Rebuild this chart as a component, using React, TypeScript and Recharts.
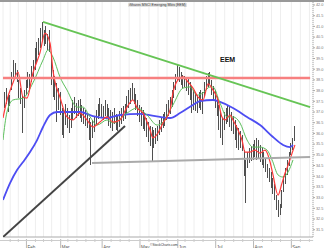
import { ComposedChart, Bar, Line, XAxis, YAxis, CartesianGrid } from "recharts";

// daily bars, day 1..162
const HIGH = [
  37.93, 38.12, 37.84, 37.79, 38.87, 39.43, 39.29, 38.96, 38.5, 38.12,
  37.75, 38.03, 38.5, 38.87, 38.78, 39.15, 39.43, 39.99, 40.27, 40.46,
  40.93, 41.21, 40.83, 41.02, 40.64, 40.83, 39.66, 38.96, 38.68, 38.36,
  38.12, 37.93, 37.19, 37.09, 37.37, 37.19, 36.86, 37.19, 37.56, 37.7,
  37.42, 37.56, 37.61, 37.33, 37.19, 37.09, 36.95, 36.72, 36.53, 36.63,
  36.81, 37.09, 37.37, 37.65, 37.37, 37.28, 37.56, 37.37, 37.19, 37.09,
  37.0, 37.19, 36.91, 36.81, 37.05, 37.19, 37.28, 37.37, 37.75, 38.03,
  38.12, 38.36, 38.12, 37.84, 37.56, 37.33, 37.23, 37.09, 36.95, 36.72,
  36.53, 36.35, 36.3, 36.16, 36.25, 36.35, 36.63, 36.77, 36.91, 37.0,
  37.37, 37.56, 37.7, 38.03, 38.4, 38.78, 39.2, 39.1, 38.87, 38.73,
  38.68, 38.59, 38.54, 38.4, 38.21, 38.03, 37.89, 37.79, 37.93, 38.03,
  37.93, 38.4, 38.68, 38.82, 38.87, 38.5, 38.21, 38.03, 37.75, 37.33,
  37.0, 36.72, 37.0, 37.19, 37.33, 37.23, 37.0, 36.81, 36.63, 36.39,
  36.25, 36.11, 35.93, 35.22, 34.76, 35.13, 35.32, 35.41, 35.5, 35.69,
  35.79, 35.69, 35.46, 35.32, 35.13, 34.85, 34.57, 34.38, 34.2, 33.92,
  33.64, 33.12, 32.89, 32.7, 33.36, 34.01, 34.38, 34.76, 35.13, 35.55,
  35.79, 36.35,
];
const LOW = [
  37.19, 37.37, 37.0, 37.28, 38.03, 38.59, 38.73, 38.4, 37.65, 37.37,
  36.02, 37.19, 37.79, 38.12, 38.03, 38.4, 38.59, 38.96, 39.34, 39.66,
  39.99, 40.36, 40.08, 40.18, 39.9, 39.8, 38.26, 37.7, 37.56, 36.53,
  37.09, 36.86, 35.93, 35.79, 36.39, 36.25, 36.02, 36.25, 36.63, 36.91,
  36.72, 36.81, 36.72, 36.53, 36.44, 36.35, 36.25, 35.69, 34.52, 35.79,
  36.07, 36.44, 36.67, 36.81, 36.72, 36.63, 36.81, 36.72, 36.35, 36.25,
  36.11, 36.44, 36.16, 36.11, 36.3, 36.44, 36.58, 36.67, 36.95, 37.19,
  37.37, 37.56, 37.37, 37.09, 36.81, 36.53, 36.35, 36.21, 36.11, 35.83,
  35.6, 35.41, 34.66, 35.32, 35.5, 35.64, 35.93, 36.07, 36.25, 36.35,
  36.63, 36.81, 36.91, 37.23, 37.65, 38.03, 38.5, 38.4, 38.26, 38.12,
  38.17, 37.98, 37.79, 37.56, 36.95, 37.09, 37.05, 36.95, 37.19, 37.09,
  36.91, 37.75, 38.03, 38.17, 38.31, 37.79, 37.51, 37.19, 36.81, 36.16,
  35.79, 35.46, 36.16, 36.44, 36.53, 36.3, 36.11, 35.97, 35.69, 35.32,
  35.22, 35.32, 35.18, 34.01, 32.75, 34.38, 34.62, 34.71, 34.76, 34.9,
  34.76, 34.85, 34.66, 34.52, 34.38, 34.2, 33.92, 33.73, 33.45, 33.17,
  32.89, 32.42, 32.09, 32.19, 32.51, 33.26, 33.64, 34.06, 34.48, 34.99,
  35.22, 35.64,
];

// moving averages (day, price)
const RED_DAYS = [0, 2.2, 5.5, 8.3, 11.1, 13.3, 16.6, 20.5, 23.3, 26.1, 27.7, 31.6, 35.5, 38.8, 42.7, 46.6, 49.9, 53.8, 57.7, 61, 64.9, 68.8, 72.1, 74.4, 77.7, 81.6, 83.2, 86, 88.8, 92.7, 94.3, 97.1, 99.9, 102.7, 105.4, 108.2, 111, 113.8, 116.5, 119.3, 121.5, 123.2, 126, 127.6, 129.9, 132.6, 134.3, 137.1, 139.8, 142.6, 145.4, 148.2, 149.8, 152.6, 154.8, 156.5, 158.2, 160.4, 162];
const RED_VALS = [36.72, 37.56, 38.36, 38.87, 37.7, 37.65, 38.82, 39.76, 40.69, 40.22, 38.96, 37.7, 36.77, 36.63, 36.95, 36.63, 36.3, 36.53, 36.77, 36.53, 36.63, 37.23, 37.56, 37.19, 36.95, 36.16, 35.79, 36.02, 36.49, 37.09, 37.89, 38.5, 38.64, 38.4, 38.12, 37.7, 37.56, 38.31, 38.03, 37.56, 36.77, 36.63, 36.86, 36.63, 36.25, 35.69, 35.13, 35.13, 35.22, 35.08, 35.22, 34.66, 34.06, 33.12, 33.68, 34.15, 34.52, 35.08, 35.46];

const GREEN_DAYS = [0, 2.2, 5.5, 11.1, 16.6, 22.2, 25, 27.7, 31.6, 35.5, 41.1, 44.4, 48.3, 52.2, 57.7, 61, 68.8, 74.4, 79.9, 85.5, 88.8, 94.3, 99.9, 103.8, 107.7, 111, 114.8, 116.5, 120.4, 124.3, 127.6, 131.5, 135.4, 138.7, 142.6, 146.5, 149.3, 152.6, 155.4, 158.2, 160.9];
const GREEN_VALS = [35.69, 37.0, 37.56, 37.65, 38.36, 39.43, 39.9, 39.57, 38.64, 38.03, 37.23, 37.23, 36.77, 36.39, 36.63, 36.49, 36.95, 37.19, 36.86, 36.39, 36.53, 37.33, 38.12, 38.17, 37.79, 37.89, 38.17, 38.17, 37.42, 36.77, 36.77, 36.49, 35.69, 35.36, 35.36, 35.22, 34.76, 34.06, 33.96, 34.2, 34.76];

const BLUE_DAYS = [0, 3.9, 7.8, 11.1, 15, 18.9, 22.2, 26.1, 30, 35.5, 42.7, 49.9, 57.7, 64.9, 76, 87.1, 92.7, 98.2, 105.4, 109.3, 116.5, 120.4, 127.6, 135.4, 142.6, 149.8, 155.4, 159.3, 160.9];
const BLUE_VALS = [32.89, 33.68, 34.29, 34.66, 35.13, 35.69, 36.3, 36.86, 37.0, 37.0, 37.0, 36.81, 36.72, 36.86, 36.91, 36.77, 36.72, 36.95, 37.33, 37.51, 37.56, 37.47, 37.19, 36.77, 36.39, 35.83, 35.46, 35.36, 35.46];

// trend lines (start/end)
const DOWN_TREND_DAYS = [22.2, 170.4];
const DOWN_TREND_VALS = [41.21, 37.23];
const RESIST_DAYS = [0, 170.4];
const RESIST_VALS = [38.59, 38.59];
const SUPPORT_DAYS = [49.4, 170.4];
const SUPPORT_VALS = [34.62, 34.9];
const UP_TREND_DAYS = [0, 67.7];
const UP_TREND_VALS = [31.16, 36.35];

const Y_TICKS = [31.5, 32, 32.5, 33, 33.5, 34, 34.5, 35, 35.5, 36, 36.5, 37, 37.5, 38, 38.5, 39, 39.5, 40, 40.5, 41, 41.5, 42];
const MONTH_TICKS = [13, 32, 55, 76, 97, 118, 139, 160];
const MONTH_LABELS = ["Feb", "Mar", "Apr", "May", "Jun", "Jul", "Aug", "Sep"];
const WEEK_TICKS = [4, 8.5, 18, 22.5, 27, 36, 41, 46, 51, 60, 65, 70, 81, 86, 91, 101, 106, 111, 123, 128, 133, 144, 149, 154, 165, 170];
const WEEK_LABELS = ["21", "28", "11", "18", "25", "10", "17", "24", "31", "14", "21", "28", "12", "19", "26", "9", "16", "23", "8", "15", "22", "13", "20", "27", "10", "17"];

const X_DOMAIN: [number, number] = [0, 172];
const Y_DOMAIN: [number, number] = [31.16, 42.14];

const bars = HIGH.map((h, i) => ({ d: i + 1, hi: h, lo: LOW[i] }));
const pts = (days: number[], vals: number[]) => days.map((d, i) => ({ d, p: vals[i] }));
const allTicks = [...WEEK_TICKS, ...MONTH_TICKS].sort((a, b) => a - b);

// 1px high-low stick snapped to the pixel grid
function Stick({ x, y, width, height }: any) {
  const cx = Math.floor(x + width / 2);
  return <rect x={cx} y={y} width={1} height={height} fill="#505050" shapeRendering="crispEdges" />;
}

function XTick({ x, y, payload }: any) {
  const m = MONTH_TICKS.indexOf(payload.value);
  if (m >= 0) {
    return (
      <g>
        <line x1={x} x2={x} y1={y} y2={y + 9} stroke="#999" strokeWidth={0.7} />
        <text x={x + 1} y={y + 9.5} fontSize={4.5} fill="#555">{MONTH_LABELS[m]}</text>
      </g>
    );
  }
  const w = WEEK_TICKS.indexOf(payload.value);
  return (
    <g>
      <line x1={x} x2={x} y1={y} y2={y + 3} stroke="#aaa" strokeWidth={0.6} />
      <text x={x + 1} y={y + 2.4} fontSize={2.4} fill="#888">{WEEK_LABELS[w]}</text>
    </g>
  );
}

export default function App() {
  return (
    <div style={{ position: "absolute", left: 0, top: 0, width: 324, height: 248, background: "#fff", overflow: "hidden", fontFamily: "Liberation Sans, Arial, sans-serif" }}>
      {/* bars + axes */}
      <ComposedChart width={324} height={248} data={bars} margin={{ top: 2, right: 0, bottom: 0, left: 3 }}>
        <CartesianGrid horizontal={false} stroke="#eeeeee" />
        <XAxis dataKey="d" type="number" domain={X_DOMAIN} ticks={allTicks} interval={0} allowDataOverflow
          tick={<XTick />} tickLine={false} tickSize={0} axisLine={{ stroke: "#aaa" }} height={11} />
        <YAxis orientation="right" domain={Y_DOMAIN} ticks={Y_TICKS} interval={0} allowDataOverflow width={11}
          tick={{ fontSize: 3.8, fill: "#777" }} tickSize={2} tickMargin={1}
          tickFormatter={(v: number) => v.toFixed(1)}
          axisLine={{ stroke: "#aaa", strokeDasharray: "1 1" }} tickLine={{ stroke: "#aaa" }} />
        <Bar dataKey={(r: any) => [r.lo, r.hi]} barSize={1} shape={<Stick />} fill="#505050" isAnimationActive={false} />
      </ComposedChart>
      {/* averages and trend lines drawn over the bars, same scales */}
      <div style={{ position: "absolute", left: 0, top: 0 }}>
        <ComposedChart width={324} height={248} margin={{ top: 2, right: 11, bottom: 11, left: 3 }}>
          <XAxis dataKey="d" type="number" domain={X_DOMAIN} allowDataOverflow hide />
          <YAxis domain={Y_DOMAIN} allowDataOverflow hide />
          <Line key="blue" data={pts(BLUE_DAYS, BLUE_VALS)} dataKey="p" type="monotone" stroke="#4d4df2" strokeWidth={1.8} dot={false} isAnimationActive={false} />
          <Line key="green" data={pts(GREEN_DAYS, GREEN_VALS)} dataKey="p" type="monotone" stroke="#5cbf5c" strokeWidth={1} dot={false} isAnimationActive={false} />
          <Line key="red" data={pts(RED_DAYS, RED_VALS)} dataKey="p" type="monotone" stroke="#ff3838" strokeWidth={1.2} dot={false} isAnimationActive={false} />
          <Line key="resist" data={pts(RESIST_DAYS, RESIST_VALS)} dataKey="p" type="linear" stroke="#f78080" strokeWidth={2.5} dot={false} isAnimationActive={false} />
          <Line key="down" data={pts(DOWN_TREND_DAYS, DOWN_TREND_VALS)} dataKey="p" type="linear" stroke="#66c455" strokeWidth={2} dot={false} isAnimationActive={false} />
          <Line key="support" data={pts(SUPPORT_DAYS, SUPPORT_VALS)} dataKey="p" type="linear" stroke="#aaaaaa" strokeWidth={2} dot={false} isAnimationActive={false} />
          <Line key="up" data={pts(UP_TREND_DAYS, UP_TREND_VALS)} dataKey="p" type="linear" stroke="#444444" strokeWidth={2} dot={false} isAnimationActive={false} />
        </ComposedChart>
      </div>
      <div style={{ position: "absolute", left: 0, top: 0, width: 324, height: 0, borderTop: "2px solid #999" }} />
      <div style={{ position: "absolute", left: 128, top: 3, padding: "0 1px", background: "#e4e4e4", fontSize: 3.5, lineHeight: "4px", color: "#333", whiteSpace: "nowrap" }}>
        iShares MSCI Emerging Mkts (EEM)
      </div>
      <div style={{ position: "absolute", left: 220, top: 56, fontSize: 7, fontWeight: "bold", lineHeight: "8px", color: "#111" }}>EEM</div>
      <div style={{ position: "absolute", left: 0, top: 240, width: 313, height: 0, borderTop: "1px solid #ccc" }} />
      <div style={{ position: "absolute", left: 150, top: 243, fontSize: 3.3, lineHeight: "4px", color: "#333", whiteSpace: "nowrap" }}>©StockCharts.com</div>
    </div>
  );
}
